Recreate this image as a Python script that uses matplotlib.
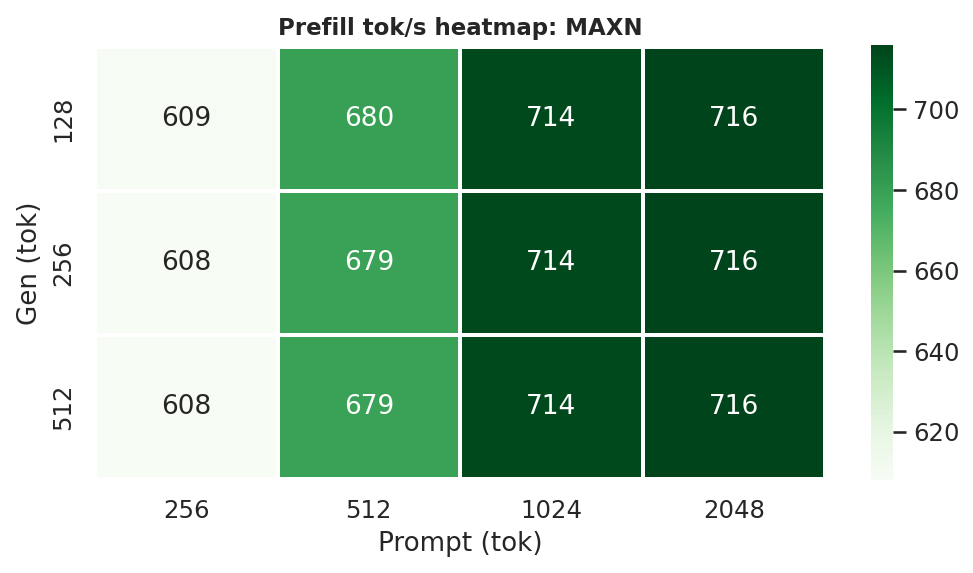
import matplotlib
matplotlib.use("Agg")
import matplotlib.pyplot as plt
import seaborn as sns
import numpy as np
import pandas as pd

## Data
prompt_tok = [256, 512, 1024, 2048]
gen_tok = [128, 256, 512]
row_128 = [609, 680, 714, 716]
row_256 = [608, 679, 714, 716]
row_512 = [608, 679, 714, 716]

sns.set_theme(style="darkgrid")
plt.rcParams["xtick.labelsize"] = 11.7
plt.rcParams["ytick.labelsize"] = 11.7
plt.rcParams["axes.labelsize"] = 12.6

df = pd.DataFrame([row_128, row_256, row_512], index=gen_tok, columns=prompt_tok)

## Axes placed to match the reference layout (pixels of a 973x573 picture)
fig = plt.figure(figsize=(973 / 150, 573 / 150), dpi=150)
ax = fig.add_axes([95 / 973, 1 - 479 / 573, 730 / 973, 432 / 573])
cax = fig.add_axes([871 / 973, 1 - 480 / 573, 22 / 973, 435 / 573])
sns.heatmap(df, annot=True, fmt="d", cmap="Greens", linewidths=1, linecolor="white",
            annot_kws={"size": 12.7}, ax=ax, cbar_ax=cax)
ax.set_title("Prefill tok/s heatmap: MAXN", fontsize=11, fontweight="bold")
ax.set_xlabel("Prompt (tok)")
ax.set_ylabel("Gen (tok)")

plt.savefig("out.png", dpi=150)
